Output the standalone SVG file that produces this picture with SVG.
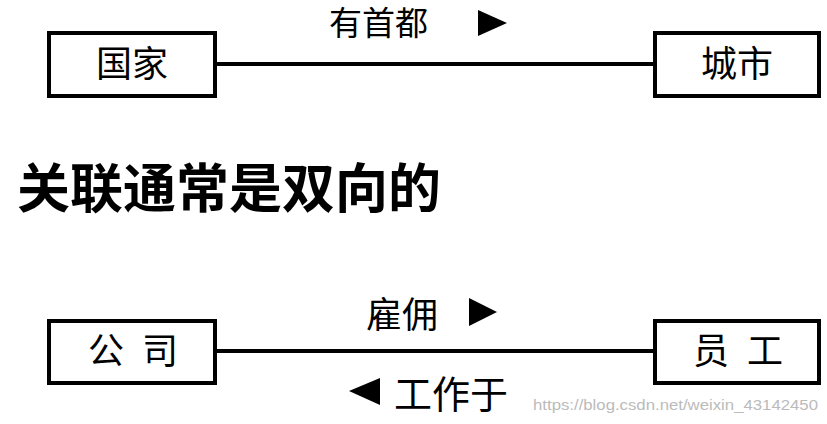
<svg xmlns="http://www.w3.org/2000/svg" width="827" height="424" viewBox="0 0 827 424">
<style>
.box{fill:#fff;stroke:#000;stroke-width:4}
.line{stroke:#000;stroke-width:4;fill:none}
.t{font-family:"Liberation Serif","Noto Sans CJK SC",serif;font-size:36px;fill:#000}
.h{font-family:"Liberation Serif","Noto Sans CJK SC",sans-serif;font-size:53px;font-weight:bold;fill:#000}
.w{font-family:"Liberation Sans Narrow","Liberation Sans",sans-serif;font-size:15px;fill:#bbb}
</style>
<rect width="827" height="424" fill="#fff"/>
<g id="connectors">
<line class="line" x1="216" y1="64" x2="654" y2="64"/>
<line class="line" x1="216" y1="351" x2="654" y2="351"/>
<text class="t" x="329" y="35" style="font-size:33px">有首都</text>
<polygon points="478,10 507,23 478,36"/>
<text class="t" x="366" y="328">雇佣</text>
<polygon points="469,298 497,312 469,326"/>
<polygon points="380,378 349,391 380,405"/>
<text class="t" x="394" y="408" style="font-size:38px">工作于</text>
</g>
<g id="n1"><rect class="box" x="49" y="33" width="166" height="63"/><text class="t" x="132" y="77" text-anchor="middle">国家</text></g>
<g id="n2"><rect class="box" x="655" y="33" width="164" height="63"/><text class="t" x="737" y="77" text-anchor="middle">城市</text></g>
<g id="n3"><rect class="box" x="49" y="321" width="166" height="62"/><text class="t" x="133" y="364" text-anchor="middle" xml:space="preserve">公  司</text></g>
<g id="n4"><rect class="box" x="655" y="321" width="164" height="62"/><text class="t" x="738" y="364" text-anchor="middle" xml:space="preserve">员  工</text></g>
<text class="h" x="17" y="208">关联通常是双向的</text>
<text class="w" x="533" y="410" textLength="285" lengthAdjust="spacingAndGlyphs">https://blog.csdn.net/weixin_43142450</text>
</svg>
